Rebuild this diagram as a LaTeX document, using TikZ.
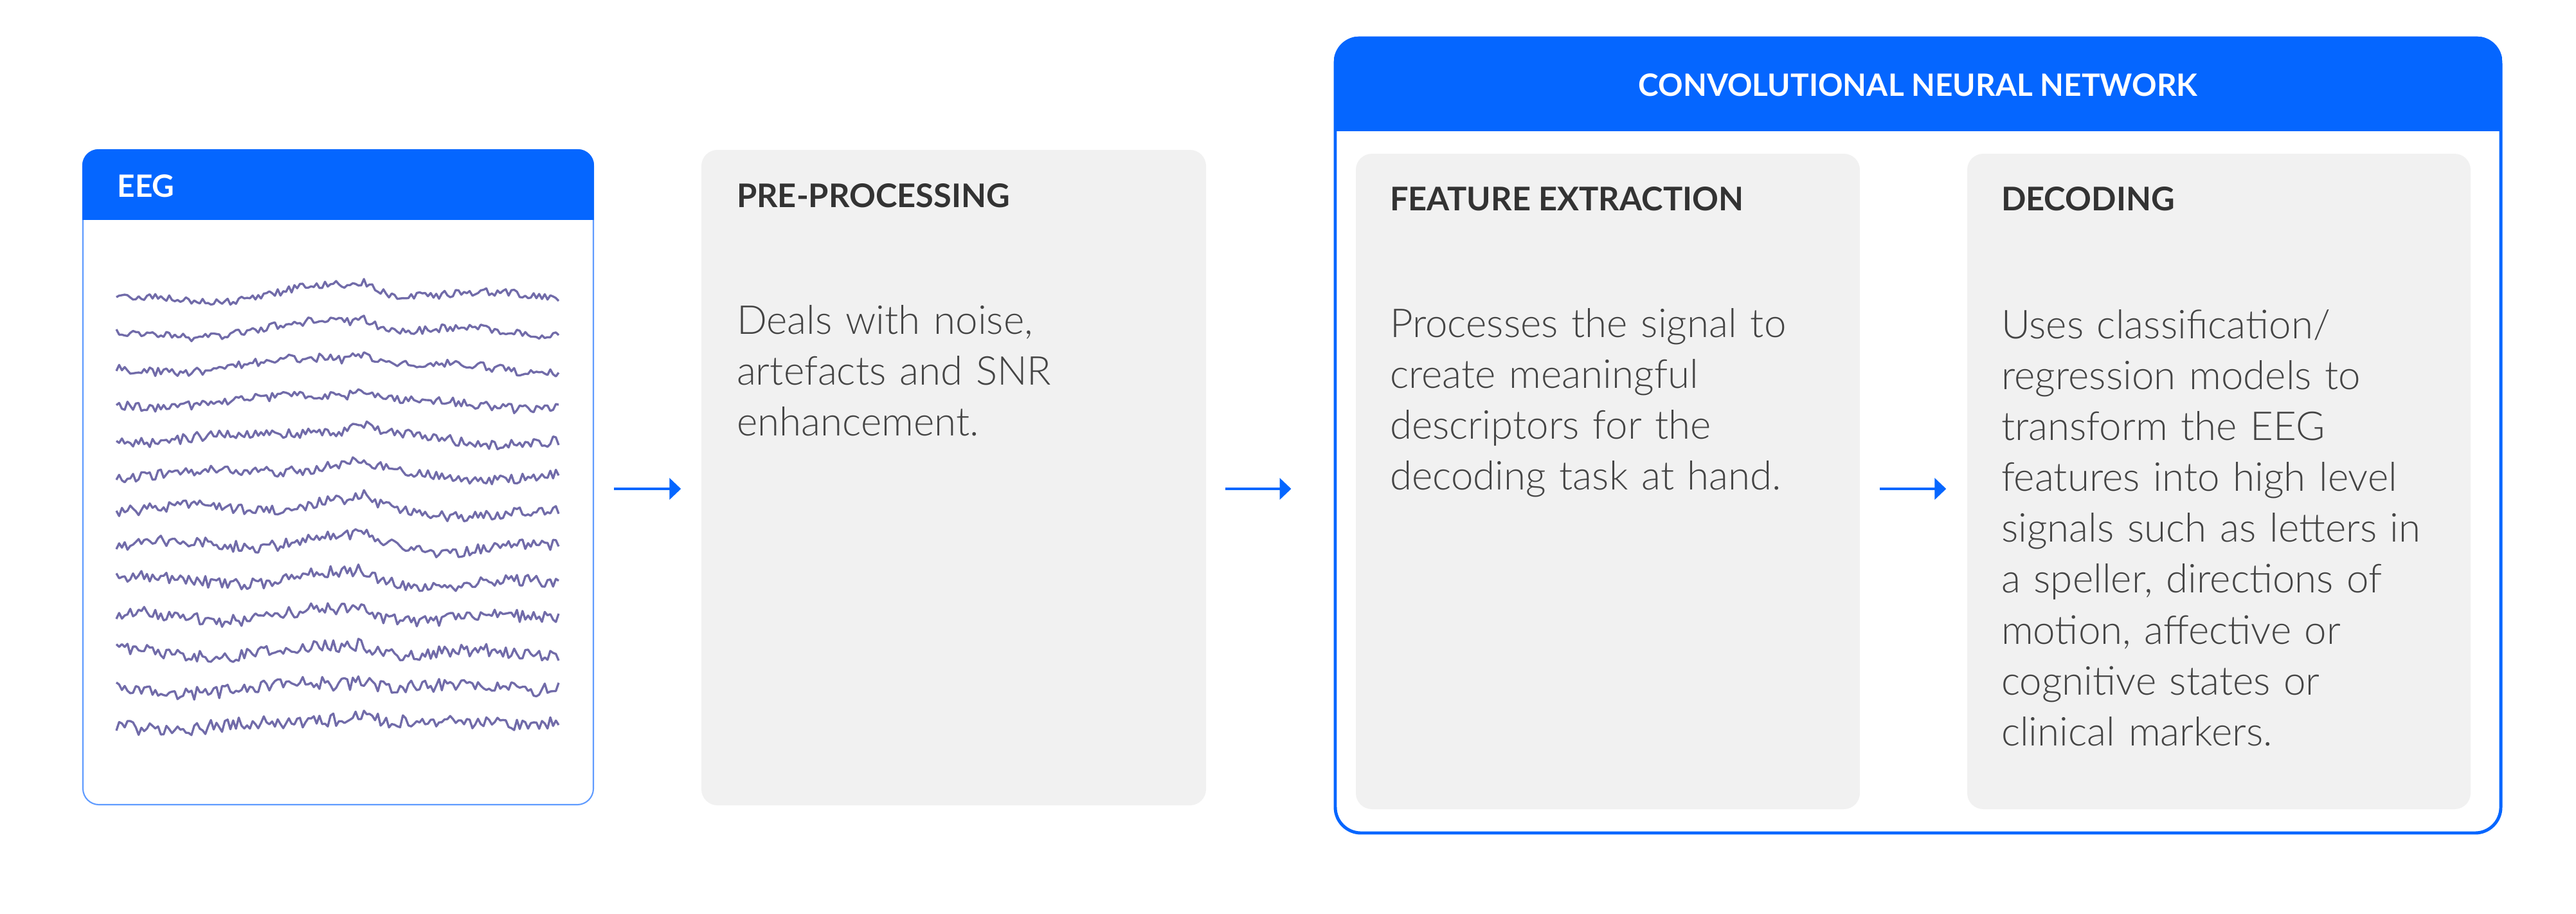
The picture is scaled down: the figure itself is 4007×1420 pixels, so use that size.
\documentclass[tikz,border=0pt]{standalone}
\usepackage{fontspec}
\setmainfont{Lato}[UprightFont={* Light}, BoldFont={* Bold}]
\usetikzlibrary{positioning, fit, arrows.meta}

\definecolor{cnnblue}{RGB}{5,102,255}
\definecolor{edgeblue}{RGB}{95,155,255}
\definecolor{boxgray}{RGB}{241,241,241}
\definecolor{headgray}{RGB}{51,51,51}
\definecolor{bodygray}{RGB}{68,68,68}
\definecolor{wavepurple}{RGB}{98,92,160}

\tikzset{
    graybox/.style = {fill=boxgray, rounded corners=0.25cm, inner sep=0pt},
    eegbox/.style = {draw=edgeblue, line width=0.6pt, fill=white, rounded corners=0.25cm, inner sep=0pt},
    cnnbox/.style = {draw=cnnblue, line width=1.4pt, fill=white, rounded corners=0.4cm, inner sep=0pt},
    boxhead/.style = {font=\fontsize{14.4}{16}\selectfont\bfseries, text=headgray, inner sep=0pt, anchor=base west},
    bandhead/.style = {font=\fontsize{13.6}{16}\selectfont\bfseries, text=white, inner sep=0pt},
    boxtext/.style = {font=\fontsize{17.6}{22.5}\selectfont, text=bodygray, align=left, text width=7.2cm, inner sep=0pt, anchor=base west},
    flow/.style = {draw=cnnblue, line width=1.4pt, -{Triangle[length=0.18cm, width=0.33cm]}},
    wave/.style = {wavepurple, line width=0.95pt, line join=round, opacity=0.9}
}

\begin{document}
\begin{tikzpicture}[x=0.01cm, y=-0.01cm]
            \useasboundingbox (0,0) rectangle (4007,1420);

            % EEG input
            \node[eegbox, fit={(129,233) (923,1251)}] (eeg) {};
            \begin{scope}
                \clip[rounded corners=0.25cm] (eeg.north west) rectangle (eeg.south east);
                \fill[cnnblue] (eeg.north west) rectangle (eeg.east |- 0,342);
            \end{scope}
            \node[bandhead, anchor=base west] (eegtitle) at ([shift={(54,75)}]eeg.north west) {EEG};
            \pgfmathsetseed{11}
            \foreach \i in {0,...,12}
                \draw[wave, domain = 181:869, samples = 160] plot (\x, {462 + 55.4*\i + (6 + 0.4*\i)*rand + 5*sin(1.3*\x + 40*\i) - 14*exp(-((\x - 520)/90)^2) - 10*exp(-((\x - 565)/20)^2) + 4*sin(0.4*\x + 25*\i)});

            % pre-processing
            \node[graybox, fit={(1091,233) (1876,1252)}] (pre) {};
            \node[boxhead] (prehead) at ([shift={(55,90)}]pre.north west) {PRE-PROCESSING};
            \node[boxtext] (pretext) at ([shift={(55,287)}]pre.north west) {Deals with noise,\\artefacts and SNR\\enhancement.};

            % CNN
            \node[cnnbox, fit={(2077,59) (3890,1295)}] (cnn) {};
            \begin{scope}
                \clip[rounded corners=0.4cm] (cnn.north west) rectangle (cnn.south east);
                \fill[cnnblue] (cnn.north west) rectangle (cnn.east |- 0,204);
            \end{scope}
            \node[bandhead, anchor=base] (cnntitle) at (cnn.north |- 0,149) {CONVOLUTIONAL NEURAL NETWORK};

            \node[graybox, fit={(2109,239) (2893,1258)}] (feat) {};
            \node[boxhead] (feathead) at ([shift={(53,89)}]feat.north west) {FEATURE EXTRACTION};
            \node[boxtext] (feattext) at ([shift={(53,286)}]feat.north west) {Processes the signal to\\create meaningful\\descriptors for the\\decoding task at hand.};

            \node[graybox, fit={(3060,239) (3843,1258)}] (dec) {};
            \node[boxhead] (dechead) at ([shift={(53,89)}]dec.north west) {DECODING};
            \node[boxtext] (dectext) at ([shift={(53,288)}]dec.north west) {Uses classification/\\regression models to\\transform the EEG\\features into high level\\signals such as letters in\\a speller, directions of\\motion, affective or\\cognitive states or\\clinical markers.};

            % arrows
            \draw[flow, shorten <= 0.31cm, shorten >= 0.31cm] (eeg.east |- 0,760) -- (pre.west |- 0,760);
            \draw[flow, shorten <= 0.29cm, shorten >= 0.66cm] (pre.east |- 0,760) -- (cnn.west |- 0,760);
            \draw[flow, shorten <= 0.30cm, shorten >= 0.32cm] (feat.east |- 0,760) -- (dec.west |- 0,760);
\end{tikzpicture}
\end{document}
